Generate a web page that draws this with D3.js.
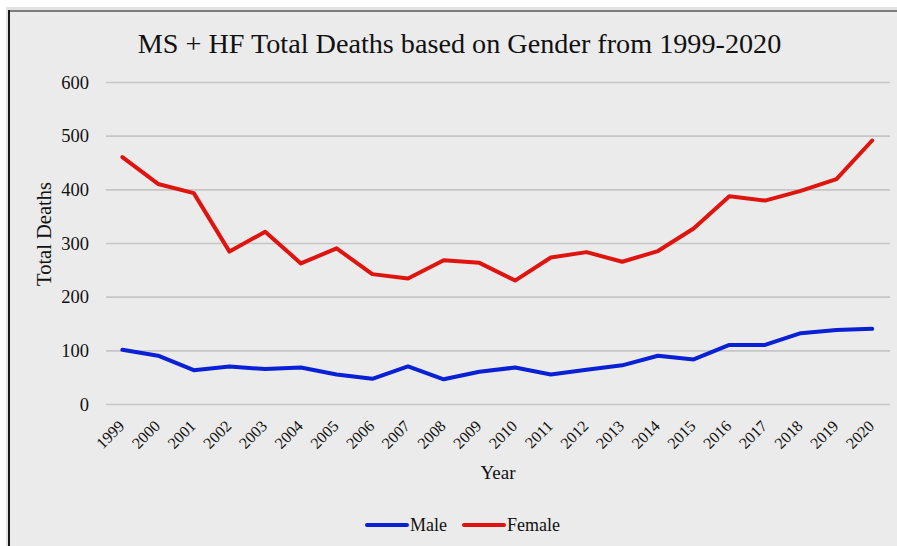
<!DOCTYPE html>
<html><head><meta charset="utf-8">
<script src="https://cdn.jsdelivr.net/npm/d3@7"></script>
<style>
html,body{margin:0;padding:0;background:#fff;}
svg{display:block;}
</style></head>
<body>
<svg id="chart" width="897" height="546"></svg>
<script>
const years = ["1999","2000","2001","2002","2003","2004","2005","2006","2007","2008","2009","2010","2011","2012","2013","2014","2015","2016","2017","2018","2019","2020"];
const male = [101,90,63,70,65,68,55,47,70,46,60,68,55,64,72,90,83,110,110,132,138,140];
const female = [460,410,393,284,321,262,290,242,234,268,263,230,273,283,265,285,327,387,379,397,419,491];
const yTicks = [0,100,200,300,400,500,600];
const seriesNames = ["Male","Female"];
const seriesColors = ["#0a20d4","#e0140f"];
const FONT = "'Liberation Serif', 'Times New Roman', Times, serif";

const svg = d3.select("#chart");
svg.append("rect").attr("x",6).attr("y",7).attr("width",891).attr("height",539).attr("fill","#e2e2e2");
svg.append("rect").attr("x",10).attr("y",12).attr("width",887).attr("height",534).attr("fill","#ebebeb");
svg.append("line").attr("x1",9).attr("x2",897).attr("y1",11).attr("y2",11).attr("stroke","#7d7d7d").attr("stroke-width",2);
svg.append("line").attr("x1",9).attr("x2",9).attr("y1",10).attr("y2",546).attr("stroke","#1a1a1a").attr("stroke-width",2);

const x = d3.scaleBand().domain(years).range([104.5, 890]);
const y = d3.scaleLinear().domain([0,600]).range([404, 82]);

svg.append("text").attr("x",459.5).attr("y",53).attr("text-anchor","middle")
  .attr("font-family",FONT).attr("font-size",28.2).attr("fill","#111")
  .text("MS + HF Total Deaths based on Gender from 1999-2020");

const yAxis = d3.axisLeft(y).tickValues(yTicks).tickSize(-(890-106)).tickPadding(17);
const gy = svg.append("g").attr("transform","translate(106,0)").call(yAxis)
  .attr("font-family",FONT).attr("font-size",18.5);
gy.select(".domain").remove();
gy.selectAll(".tick line").attr("stroke","#c6c6c6").attr("stroke-width",1.6);
gy.selectAll(".tick text").attr("fill","#111").attr("dy","0.34em");

const xAxis = d3.axisBottom(x).tickSize(0).tickPadding(0);
const gx = svg.append("g").attr("transform","translate(0,404)").call(xAxis)
  .attr("font-family",FONT).attr("font-size",16);
gx.select(".domain").remove();
gx.selectAll(".tick text").attr("fill","#111")
  .attr("text-anchor","end").attr("dy",null).attr("y",0)
  .attr("transform","translate(3,23) rotate(-45)");

svg.append("text").attr("transform","translate(51,234) rotate(-90)").attr("text-anchor","middle")
  .attr("font-family",FONT).attr("font-size",20.5).attr("fill","#111").text("Total Deaths");
svg.append("text").attr("x",498).attr("y",479).attr("text-anchor","middle")
  .attr("font-family",FONT).attr("font-size",19).attr("fill","#111").text("Year");

const line = d3.line().x((d,i)=>x(years[i])+x.bandwidth()/2).y(d=>y(d));
[male,female].forEach((s,i)=>{
  svg.append("path").datum(s).attr("d",line).attr("fill","none")
    .attr("stroke",seriesColors[i]).attr("stroke-width",4).attr("stroke-linejoin","round").attr("stroke-linecap","round");
});

const legX = [367,464];
seriesNames.forEach((n,i)=>{
  svg.append("line").attr("x1",legX[i]).attr("x2",legX[i]+40).attr("y1",525).attr("y2",525)
    .attr("stroke",seriesColors[i]).attr("stroke-width",4).attr("stroke-linecap","round");
  svg.append("text").attr("x",legX[i]+43).attr("y",531).attr("font-family",FONT).attr("font-size",18)
    .attr("fill","#111").text(n);
});
</script>
</body></html>
